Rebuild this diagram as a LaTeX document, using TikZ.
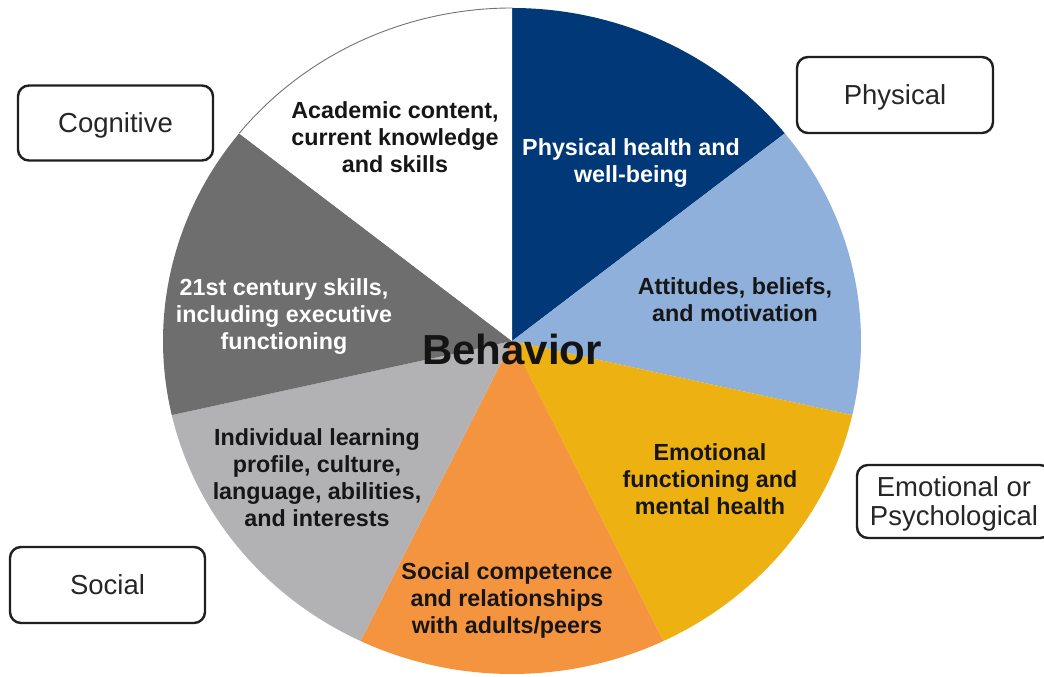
\documentclass[tikz,border=0pt]{standalone}
\usepackage{fontspec}
\setmainfont{Liberation Sans}
\definecolor{navyslice}{RGB}{0,56,120}
\definecolor{lblueslice}{RGB}{143,176,218}
\definecolor{goldslice}{RGB}{238,177,18}
\definecolor{orangeslice}{RGB}{245,148,62}
\definecolor{lgrayslice}{RGB}{178,178,180}
\definecolor{dgrayslice}{RGB}{110,110,110}
\definecolor{txtdark}{RGB}{22,22,22}
\begin{document}
\begin{tikzpicture}[x=1bp,y=1bp,
  slicetxt/.style={font=\bfseries\fontsize{23.3bp}{27bp}\selectfont, align=center, text=txtdark, inner sep=0pt},
  catbox/.style={draw=black!88, line width=2.4bp, rounded corners=11bp, fill=white,
    minimum width=195bp, minimum height=75bp, align=center, text depth=0pt,
    font=\fontsize{27.5bp}{29bp}\selectfont, text=black!85, inner sep=0pt}]
\useasboundingbox (0,0) rectangle (1044,677);
\clip (0,0) rectangle (1044,677);
\fill[white] (0,0) rectangle (1044,677);
\coordinate (c) at (512,336);
\foreach \idx/\col in {0/navyslice,1/lblueslice,2/goldslice,3/orangeslice,4/lgrayslice,5/dgrayslice,6/white} {
  \pgfmathsetmacro\angA{90-\idx*360/7}
  \pgfmathsetmacro\angB{90-(\idx+1)*360/7}
  \fill[\col] (c) -- ++(\angA:349bp and 333bp)
    arc[start angle=\angA, end angle=\angB, x radius=349bp, y radius=333bp] -- cycle;
}
\pgfmathsetmacro\angW{90-6*360/7}
\draw[black!55, line width=0.9bp] (c) ++(\angW:349bp and 333bp)
  arc[start angle=\angW, end angle=-270, x radius=349bp, y radius=333bp];

\node[slicetxt] (acad) at (395,540) {Academic content,\\current knowledge\\and skills};
\node[slicetxt, text=white] (phys) at (631,514) {Physical health and\\well-being};
\node[slicetxt] (att) at (735,377) {Attitudes, beliefs,\\and motivation};
\node[slicetxt] (emo) at (710,198) {Emotional\\functioning and\\mental health};
\node[slicetxt] (soc) at (507,77) {Social competence\\and relationships\\with adults/peers};
\node[slicetxt] (ind) at (317,199) {Individual learning\\profile, culture,\\language, abilities,\\and interests};
\node[slicetxt, text=white] (cent) at (284,360) {21st century skills,\\including executive\\functioning};
\node[font=\bfseries\fontsize{42bp}{46bp}\selectfont, text=black!92, anchor=base, inner sep=0pt] (beh) at (512,312) {Behavior};

\node[catbox] (cogbox) at (115.5,554) {Cognitive};
\node[catbox, minimum width=196bp, minimum height=76bp] (physbox) at (895,582) {Physical};
\node[catbox, minimum width=194bp, minimum height=73bp] (emobox) at (954,175.5) {Emotional or\\Psychological};
\node[catbox, minimum height=76bp] (socbox) at (107.5,92) {Social};
\end{tikzpicture}
\end{document}
